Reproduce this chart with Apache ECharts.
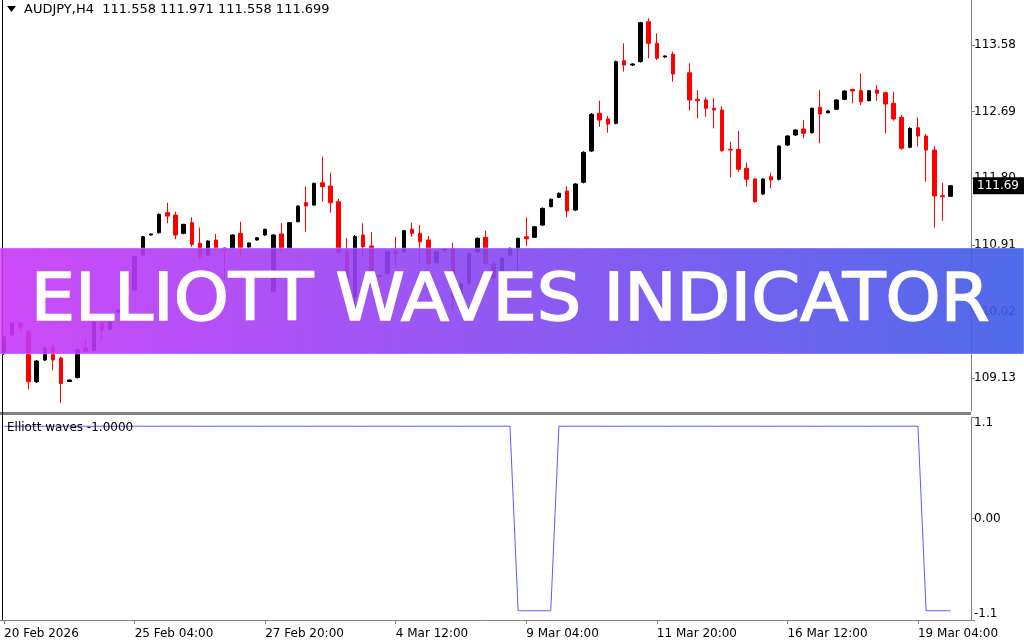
<!DOCTYPE html>
<html>
<head>
<meta charset="utf-8">
<script src="https://cdn.jsdelivr.net/npm/echarts@6/dist/echarts.min.js"></script>
<style>
html,body{margin:0;padding:0;background:#fff;}
#chart{width:1024px;height:640px;}
</style>
</head>
<body>
<div id="chart"></div>
<script>
// ---------- DATA ----------
const symbolTitle = 'AUDJPY,H4';
const headerValues = ['111.558', '111.971', '111.558', '111.699'];
const indicatorTitle = 'Elliott waves -1.0000';
const bannerTitle = 'ELLIOTT WAVES INDICATOR';

const tradingDays = ['20 Feb','23 Feb','24 Feb','25 Feb','26 Feb','27 Feb','2 Mar','3 Mar','4 Mar','5 Mar','6 Mar',
  '9 Mar','10 Mar','11 Mar','12 Mar','13 Mar','16 Mar','17 Mar','18 Mar','19 Mar'];
const barHours = ['00:00','04:00','08:00','12:00','16:00','20:00'];
const firstBarHour = 3;      // first bar: 20 Feb 12:00
const emptySlots = 2;        // free space right of the last bar

const tickLabels = ['20 Feb 2026','25 Feb 04:00','27 Feb 20:00','4 Mar 12:00','9 Mar 04:00','11 Mar 20:00','16 Mar 12:00','19 Mar 04:00'];
const tickEvery = 16;

const priceTicks = [109.13, 110.02, 110.91, 111.80, 112.69, 113.58];
const priceMin = 108.689, priceMax = 114.181;
const indTicks = [-1.1, 0, 1.1];

const opens = [
109.464,109.704,109.864,109.748,109.080,109.370,109.544,109.397,109.083,109.136,
109.530,109.497,109.871,109.784,110.011,109.958,110.305,110.773,111.041,111.071,
111.339,111.308,111.063,111.205,110.930,110.773,110.974,110.867,110.863,111.063,
110.880,110.974,111.041,110.283,111.054,110.863,111.218,111.472,111.441,111.739,
111.695,111.486,110.813,110.212,111.041,110.894,110.492,110.529,110.817,110.817,
111.117,111.063,110.974,110.670,110.843,110.863,110.225,110.395,110.817,111.010,
110.653,110.479,110.773,110.863,111.018,111.010,111.174,111.419,111.544,111.629,
111.375,111.745,112.163,112.667,112.591,112.533,113.370,113.312,113.357,113.891,
113.602,113.419,113.455,null,113.209,112.854,112.845,112.734,112.711,112.186,
112.186,111.932,111.789,111.588,111.820,111.785,112.243,112.377,112.457,112.408,
112.747,112.675,112.720,112.854,112.988,112.969,112.835,112.978,112.942,112.801,
112.613,112.213,112.474,112.364,112.176,111.566,111.558];

const closes = [
109.677,109.864,109.811,109.080,109.357,109.530,109.370,109.056,109.103,109.504,
109.490,109.878,109.771,109.878,110.038,110.225,110.751,111.018,111.054,111.317,
111.294,111.041,111.183,110.916,110.751,110.960,110.863,110.840,111.041,110.876,
110.934,111.004,111.117,111.041,110.863,111.205,111.428,111.428,111.731,111.686,
111.472,110.813,110.225,111.018,110.884,110.483,110.499,110.817,110.787,111.098,
111.063,110.951,110.662,110.817,110.849,110.216,110.386,110.796,110.996,110.662,
110.466,110.733,110.863,110.996,110.991,111.151,111.397,111.518,111.598,111.361,
111.722,112.146,112.654,112.577,112.524,113.357,113.312,113.326,113.878,113.602,
113.402,113.433,113.192,null,112.845,112.835,112.734,112.711,112.167,112.176,
111.919,111.785,111.486,111.789,111.776,112.230,112.364,112.444,112.400,112.734,
112.658,112.698,112.845,112.965,112.965,112.822,112.969,112.934,112.791,112.591,
112.199,112.466,112.364,112.176,111.562,111.552,111.699];

const lows = [
109.437,109.691,109.748,108.976,109.063,109.357,109.236,108.795,109.076,109.123,
109.477,109.490,109.637,109.771,110.000,109.945,110.290,110.760,111.035,111.060,
111.197,110.983,111.050,110.884,110.716,110.760,110.840,110.439,110.850,110.773,
110.870,110.965,111.030,110.270,110.817,110.850,111.210,111.085,111.430,111.486,
111.339,110.787,110.172,110.105,110.751,110.439,110.480,110.520,110.640,110.800,
111.018,110.662,110.640,110.660,110.813,110.061,110.185,110.380,110.800,110.640,
110.373,110.460,110.760,110.483,110.894,111.000,111.160,111.410,111.535,111.277,
111.360,111.730,112.150,112.488,112.409,112.520,113.223,113.300,113.345,113.402,
113.379,113.410,113.089,null,112.702,112.600,112.621,112.466,112.154,111.812,
111.886,111.686,111.472,111.575,111.665,111.770,112.230,112.365,112.333,112.395,
112.266,112.665,112.710,112.845,112.801,112.778,112.825,112.835,112.400,112.568,
112.176,112.200,112.221,111.753,111.138,111.232,111.558];

const highs = [
109.704,109.878,109.868,109.771,109.370,109.544,109.584,109.414,109.109,109.517,
109.664,109.891,109.878,109.891,110.050,110.240,110.760,111.030,111.062,111.330,
111.472,111.352,111.190,111.277,111.141,110.970,111.054,110.880,111.050,111.218,
110.940,111.010,111.125,111.050,111.201,111.215,111.440,111.686,111.740,112.087,
111.873,111.522,111.000,111.041,111.197,111.081,110.510,110.830,111.018,111.110,
111.205,111.174,111.027,110.830,110.867,110.938,110.412,110.810,111.010,111.098,
110.680,110.750,110.875,111.005,111.277,111.160,111.410,111.530,111.610,111.695,
111.735,112.160,112.670,112.835,112.631,113.370,113.602,113.335,113.890,113.936,
113.736,113.440,113.490,null,113.335,112.978,112.881,112.867,112.764,112.287,
112.430,112.007,111.800,111.800,111.873,112.240,112.375,112.455,112.577,112.745,
112.978,112.710,112.855,112.975,112.990,113.201,112.980,113.045,112.956,112.956,
112.644,112.480,112.613,112.390,112.230,111.740,111.710];

const elliott = [
1,1,1,1,1,1,1,1,1,1,
1,1,1,1,1,1,1,1,1,1,
1,1,1,1,1,1,1,1,1,1,
1,1,1,1,1,1,1,1,1,1,
1,1,1,1,1,1,1,1,1,1,
1,1,1,1,1,1,1,1,1,1,
1,1,1,-1,-1,-1,-1,-1,1,1,
1,1,1,1,1,1,1,1,1,1,
1,1,1,1,1,1,1,1,1,1,
1,1,1,1,1,1,1,1,1,1,
1,1,1,1,1,1,1,1,1,1,
1,1,1,-1,-1,-1,-1];

// ---------- BUILD ----------
const categories = [];
tradingDays.forEach((d, di) => {
  barHours.forEach((h, hi) => {
    if (di === 0 && hi < firstBarHour) return;
    categories.push(d + ' ' + h);
  });
});
for (let k = 0; k < emptySlots; k++) categories.push('');

const ohlc = opens.map((o, i) => o === null ? '-' : [o, closes[i], lows[i], highs[i]]);
const lastClose = closes[closes.length - 1];
const lastLabel = (Math.floor(lastClose * 100 + 1e-6) / 100).toFixed(2);

const showTick = (i) => i % tickEvery === 0 && i / tickEvery < tickLabels.length;
const axisFont = 'DejaVu Sans';

const chart = echarts.init(document.getElementById('chart'), null, {renderer: 'canvas'});

const option = {
  animation: false,
  backgroundColor: '#ffffff',
  grid: [
    {left: 0, top: 0, width: 971, height: 411},
    {left: 0, top: 417, width: 971, height: 203}
  ],
  xAxis: [
    {type: 'category', gridIndex: 0, data: categories, boundaryGap: true,
     axisLine: {show: false, onZero: false}, axisTick: {show: false}, axisLabel: {show: false}, splitLine: {show: false}},
    {type: 'category', gridIndex: 1, data: categories, boundaryGap: true, position: 'bottom',
     axisLine: {show: true, onZero: false, lineStyle: {color: '#808080', width: 1}},
     axisTick: {show: true, alignWithLabel: true, interval: showTick, length: 4, lineStyle: {color: '#808080'}},
     axisLabel: {show: true, interval: showTick, formatter: (v, i) => tickLabels[i / tickEvery] || '',
       align: 'left', color: '#000', fontFamily: axisFont, fontSize: 12, margin: 8, hideOverlap: false},
     splitLine: {show: false}}
  ],
  yAxis: [
    {type: 'value', gridIndex: 0, position: 'right', min: priceMin, max: priceMax,
     axisLine: {show: true, lineStyle: {color: '#808080', width: 1}},
     axisTick: {show: true, length: 4, customValues: priceTicks, lineStyle: {color: '#808080'}},
     axisLabel: {show: true, customValues: priceTicks, formatter: v => v.toFixed(2),
       color: '#000', fontFamily: axisFont, fontSize: 12, margin: 3},
     splitLine: {show: false}},
    {type: 'value', gridIndex: 1, position: 'right', min: -1.1, max: 1.1,
     axisLine: {show: true, lineStyle: {color: '#808080', width: 1}},
     axisTick: {show: true, length: 4, customValues: indTicks, lineStyle: {color: '#808080'}},
     axisLabel: {show: true, customValues: indTicks, formatter: v => (v === 0 ? '0.00' : v.toFixed(1)),
       color: '#000', fontFamily: axisFont, fontSize: 12, margin: 3,
       verticalAlignMaxLabel: 'top', verticalAlignMinLabel: 'bottom'},
     splitLine: {show: false}}
  ],
  series: [
    {type: 'candlestick', name: 'AUDJPY', xAxisIndex: 0, yAxisIndex: 0, data: ohlc,
     barWidth: 4,
     itemStyle: {color: '#000000', color0: '#ff0000', borderColor: '#000000', borderColor0: '#ff0000', borderWidth: 1},
     emphasis: {disabled: true},
     markLine: {
       silent: true, symbol: ['none', 'none'], animation: false,
       lineStyle: {color: 'rgba(0,0,0,0)', width: 0, type: 'solid'},
       label: {show: true, position: 'end', distance: 2, formatter: lastLabel,
         color: '#fff', backgroundColor: '#000', fontFamily: axisFont, fontSize: 12,
         padding: [3, 8, 2, 4]},
       emphasis: {disabled: true},
       data: [{yAxis: lastClose}]
     }},
    {type: 'line', name: 'Elliott waves', xAxisIndex: 1, yAxisIndex: 1, data: elliott,
     symbol: 'none', lineStyle: {color: '#5a5aff', width: 1}, emphasis: {disabled: true}}
  ],
  graphic: [
    {type: 'rect', shape: {x: 0, y: 412, width: 971, height: 3}, style: {fill: '#808080'}, z: 10},
    {type: 'line', shape: {x1: 2.5, y1: 0, x2: 2.5, y2: 620}, style: {stroke: '#000', lineWidth: 1}, z: 10},
    {type: 'polygon', shape: {points: [[7, 6], [16, 6], [11.5, 12]]}, style: {fill: '#000'}, z: 10},
    {type: 'text', x: 24, y: 10, z: 10,
     style: {text: symbolTitle + '  ' + headerValues.join(' '), fill: '#000', font: '13px "DejaVu Sans"',
       verticalAlign: 'middle', textVerticalAlign: 'middle'}},
    {type: 'text', x: 7, y: 428, z: 10,
     style: {text: indicatorTitle, fill: '#000', font: '12px "DejaVu Sans"',
       verticalAlign: 'middle', textVerticalAlign: 'middle'}},
    {type: 'rect', shape: {x: 0, y: 248, width: 1024, height: 106}, z: 100,
     style: {
       fill: new echarts.graphic.LinearGradient(0, 0, 1, 0, [
         {offset: 0, color: 'rgba(200,55,248,0.9)'},
         {offset: 0.5, color: 'rgba(132,71,241,0.9)'},
         {offset: 1, color: 'rgba(60,91,232,0.9)'}
       ]),
       stroke: 'rgba(255,255,255,0.35)', lineWidth: 1
     }},
    {type: 'text', x: 510, y: 303, z: 101, scaleX: 1.062,
     style: {text: bannerTitle, fill: '#ffffff', stroke: '#ffffff', lineWidth: 1.6,
       font: '66px "DejaVu Sans"',
       align: 'center', verticalAlign: 'middle', textAlign: 'center', textVerticalAlign: 'middle'}}
  ]
};
chart.setOption(option);
</script>
</body>
</html>
